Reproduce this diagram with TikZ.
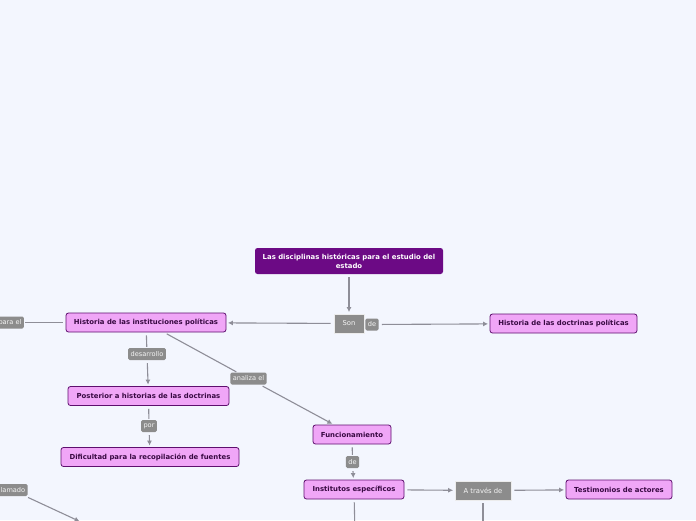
\documentclass[tikz,border=0pt]{standalone}
\usepackage{fontspec}
\setmainfont{DejaVu Sans}
\usetikzlibrary{arrows.meta}
\definecolor{fondo}{HTML}{F3F6FE}
\definecolor{morado}{HTML}{6C0A85}
\definecolor{rosa}{HTML}{F0A6F7}
\definecolor{borde}{HTML}{5E0F6E}
\definecolor{gris}{HTML}{8C8C8C}
\definecolor{linea}{HTML}{8E8E98}

\begin{document}
\begin{tikzpicture}[x=1pt, y=-1pt,
  titulo/.style={fill=morado, rounded corners=2.5pt, text=white, font=\fontsize{6.9}{9}\selectfont\bfseries, align=center, minimum width=188pt, minimum height=26pt, inner xsep=0pt, inner ysep=1pt},
  tema/.style={draw=borde, fill=rosa, rounded corners=2.5pt, line width=0.8pt, text=borde!60!black, font=\fontsize{6.9}{8}\selectfont\bfseries, minimum height=19pt, inner xsep=1pt},
  caja/.style={draw=white!85!gray, fill=gris, line width=0.8pt, text=white!92!gray, font=\fontsize{6.8}{8}\selectfont, minimum height=19pt},
  etiqueta/.style={fill=gris, rounded corners=1.5pt, text=white!92!gray, font=\fontsize{6.6}{7}\selectfont, inner xsep=2.5pt, inner ysep=0pt, minimum height=12pt},
  enlace/.style={draw=linea, line width=1.1pt, shorten >=1.5pt, shorten <=3pt, -{Latex[length=5pt,width=5pt]}},
  recta/.style={draw=linea, line width=1.1pt, shorten <=3pt, shorten >=1pt}]
\useasboundingbox[fill=fondo] (0,0) rectangle (696,520);
\clip (0,0) rectangle (696,520);

\node[titulo] (tema) at (349,261) {Las disciplinas históricas para el estudio del\\estado};
\node[caja, minimum width=30pt] (son) at (349,323.5) {Son};
\node[etiqueta] (de1) at (372,324.5) {de};
\node[tema, minimum width=160pt] (instituciones) at (146,322.5) {Historia de las instituciones políticas};
\node[tema, minimum width=147pt] (doctrinas) at (563.5,323.5) {Historia de las doctrinas políticas};
\node[etiqueta] (parael) at (10,322.5) {para el};
\node[etiqueta] (desarrollo) at (147,354) {desarrollo};
\node[tema, minimum width=161pt] (posterior) at (148.5,396) {Posterior a historias de las doctrinas};
\node[etiqueta] (por) at (149,426) {por};
\node[tema, minimum width=178pt] (dificultad) at (150,457) {Dificultad para la recopilación de fuentes};
\node[etiqueta] (analiza) at (248.5,378.5) {analiza el};
\node[tema, minimum width=78pt] (funcionamiento) at (352,434.5) {Funcionamiento};
\node[etiqueta] (de2) at (352.5,462) {de};
\node[tema, minimum width=100pt] (institutos) at (354,489.5) {Institutos específicos};
\node[caja, minimum width=56pt] (atraves) at (483,490.5) {A través de};
\node[tema, minimum width=106pt] (testimonios) at (619,489.5) {Testimonios de actores};
\node[etiqueta] (llamado) at (12,490) {llamado};
\coordinate (abajo1) at (81,522);
\coordinate (abajo2) at (355,535);
\coordinate (abajo3) at (483,535);

\draw[enlace] (tema) -- (son);
\draw[enlace] (son) -- (instituciones);
\draw[enlace] (de1) -- (doctrinas);
\draw[recta] (instituciones) -- (parael);
\draw[recta] (instituciones) -- (desarrollo);
\draw[enlace] (desarrollo) -- (posterior);
\draw[recta] (posterior) -- (por);
\draw[enlace] (por) -- (dificultad);
\draw[recta] (instituciones) -- (analiza);
\draw[enlace] (analiza) -- (funcionamiento);
\draw[recta] (funcionamiento) -- (de2);
\draw[enlace] (de2) -- (institutos);
\draw[enlace] (institutos) -- (atraves);
\draw[enlace] (atraves) -- (testimonios);
\draw[recta] (institutos) -- (abajo2);
\draw[recta] (atraves) -- (abajo3);
\draw[enlace] (llamado) -- (abajo1);
\end{tikzpicture}
\end{document}
